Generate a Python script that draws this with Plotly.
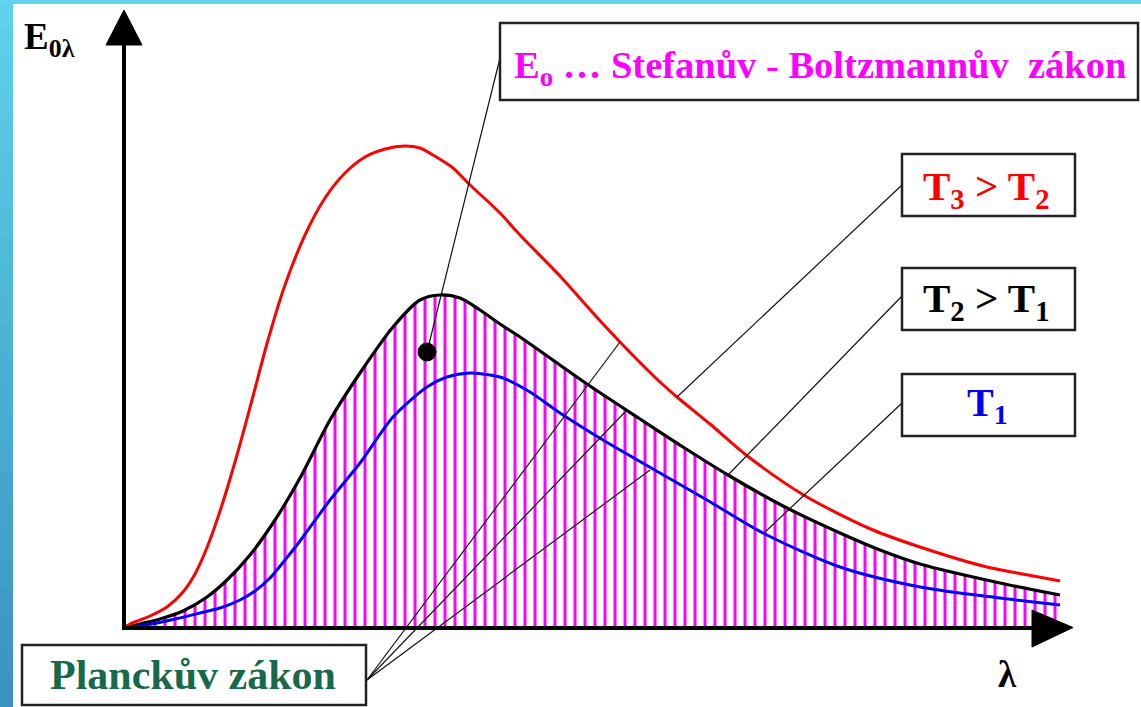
import plotly.graph_objects as go

# ---------------- data (arbitrary units) ----------------
# wavelength axis values (lambda) and spectral emissivity E0λ for each temperature
red_lambda = [0, 0.6, 2.6, 4.3, 5.9, 7.1, 8.4, 9.8, 11.3, 12.8, 14.4, 16.1, 18.1, 20.1, 22.1,
              24.1, 26.1, 28.1, 29.6, 30.9, 32.9, 34.4, 37.6, 39.6, 43.6, 46.9, 49.6, 53.6,
              55.3, 58.6, 62.6, 68.3, 74.9, 79.6, 85.9, 89.3, 93.6]
red_E = [0, 0.4, 1.2, 2.1, 3.6, 5.4, 8.3, 12.3, 17.3, 22.8, 28.8, 34.3, 39.3, 43.0, 45.5,
         47.1, 47.9, 48.2, 48.0, 47.3, 46.0, 44.5, 41.5, 39.3, 35.2, 31.5, 28.6, 24.6,
         23.1, 20.4, 17.0, 13.1, 9.8, 8.1, 6.2, 5.5, 4.7]

black_lambda = [0, 1.6, 3.6, 5.9, 8.3, 10.3, 12.6, 15.1, 17.6, 20.6, 23.6, 26.9, 29.6, 31.6,
                33.6, 35.6, 37.6, 39.6, 42.6, 46.3, 51.6, 55.9, 60.4, 65.9, 71.6, 75.6,
                79.6, 87.6, 93.6]
black_E = [0, 0.4, 0.9, 1.7, 3.1, 4.8, 7.3, 10.8, 15.0, 20.8, 25.5, 30.1, 32.8, 33.3,
           33.0, 31.8, 30.4, 29.1, 27.0, 24.4, 20.9, 18.1, 15.3, 12.2, 9.5, 7.8,
           6.4, 4.5, 3.3]

blue_lambda = [0, 3.3, 7.6, 9.6, 11.6, 13.1, 14.6, 16.1, 17.6, 20.6, 23.6, 26.9, 30.3,
               32.3, 34.6, 36.6, 37.9, 40.6, 43.6, 47.9, 53.6, 58.3, 63.9, 71.6, 79.6,
               87.6, 93.6]
blue_E = [0, 0.5, 1.5, 2.0, 2.8, 3.7, 5.0, 6.8, 8.7, 12.8, 16.5, 21.1, 24.1,
          25.1, 25.5, 25.3, 25.0, 23.6, 21.5, 18.8, 15.5, 12.8, 9.5, 6.1, 4.1,
          3.0, 2.3]

# labels
y_label = "<b>E<sub>0λ</sub></b>"
x_label = "<b>λ</b>"
stefan_label = "<b>E<sub>o</sub> … Stefanův - Boltzmannův  zákon</b>"
planck_label = "<b>Planckův zákon</b>"
t3_label = "<b>T<sub>3</sub> > T<sub>2</sub></b>"
t2_label = "<b>T<sub>2</sub> > T<sub>1</sub></b>"
t1_label = "<b>T<sub>1</sub></b>"

W, H = 1141, 707
X0, X1 = -12.4, 101.7
Y0, Y1 = -7.9, 62.8

MAGENTA = "#ff00ff"
GREEN = "#17694a"
FONT = "Liberation Serif"

fig = go.Figure()

# hatched area under T2 curve (black line)
fig.add_trace(go.Scatter(
    x=black_lambda, y=black_E, mode="lines", fill="tozeroy", fillcolor="white",
    fillpattern=dict(shape="|", fgcolor=MAGENTA, bgcolor="white", size=10,
                     solidity=0.3, fgopacity=1),
    line=dict(color="black", width=3.2, shape="spline", smoothing=0.8),
    hoverinfo="skip", showlegend=False))
fig.add_trace(go.Scatter(
    x=blue_lambda, y=blue_E, mode="lines",
    line=dict(color="#0000ff", width=3, shape="spline", smoothing=0.8),
    hoverinfo="skip", showlegend=False))
fig.add_trace(go.Scatter(
    x=red_lambda, y=red_E, mode="lines",
    line=dict(color="#ff0000", width=3, shape="spline", smoothing=0.8),
    hoverinfo="skip", showlegend=False))

shapes = []
# background stripes (left gradient and top)
N = 24
c_top = (0x5e, 0xd1, 0xeb)
c_bot = (0x3a, 0x93, 0xbf)
for i in range(N):
    t = i / (N - 1)
    c = tuple(round(c_top[k] + (c_bot[k] - c_top[k]) * t) for k in range(3))
    shapes.append(dict(type="rect", xref="paper", yref="paper", layer="below",
                       x0=0, x1=13 / W, y0=max(0, 1 - (i + 1) / N - 2 / H), y1=1 - i / N,
                       line=dict(width=0), fillcolor="rgb(%d,%d,%d)" % c))
shapes.append(dict(type="rect", xref="paper", yref="paper", layer="below",
                   x0=0, x1=1, y0=1 - 4 / H, y1=1, line=dict(width=0), fillcolor="#61d4ee"))

# axes with arrows
shapes.append(dict(type="line", xref="x", yref="y", x0=0, x1=0, y0=0, y1=59.0,
                   line=dict(color="black", width=4)))
shapes.append(dict(type="line", xref="x", yref="y", x0=-0.2, x1=91.5, y0=0, y1=0,
                   line=dict(color="black", width=4)))
shapes.append(dict(type="path", xref="x", yref="y",
                   path="M -1.8 58.3 L 0 61.8 L 1.8 58.3 Z",
                   fillcolor="black", line=dict(color="black", width=1)))
shapes.append(dict(type="path", xref="x", yref="y",
                   path="M 90.8 1.8 L 94.9 0.05 L 90.8 -1.9 Z",
                   fillcolor="black", line=dict(color="black", width=1)))

# leader lines
leaders = [
    ((37.6, 57.0), (30.3, 27.6)),   # Stefan-Boltzmann -> dot
    ((24.3, -5.2), (49.6, 28.6)),   # Planck -> red
    ((24.3, -5.2), (50.1, 21.6)),   # Planck -> black
    ((24.3, -5.2), (52.6, 15.8)),   # Planck -> blue
    ((77.8, 44.3), (55.3, 23.1)),   # T3 -> red
    ((77.8, 33.2), (60.4, 15.3)),   # T2 -> black
    ((77.8, 22.5), (64.1, 9.6)),    # T1 -> blue
]
for (a, b) in leaders:
    shapes.append(dict(type="line", xref="x", yref="y", x0=a[0], y0=a[1], x1=b[0], y1=b[1],
                       line=dict(color="#111", width=1.2)))

# dot
shapes.append(dict(type="circle", xref="x", yref="y", x0=29.4, x1=31.2, y0=26.7, y1=28.5,
                   fillcolor="black", line=dict(color="black", width=1)))

# label boxes
boxes = [
    (37.6, 101.4, 52.8, 60.5),    # Stefan
    (77.8, 95.1, 41.2, 47.4),     # T3
    (77.8, 95.1, 29.8, 36.0),     # T2
    (77.8, 95.1, 19.2, 25.4),     # T1
    (-10.2, 24.2, -7.7, -1.7),    # Planck
]
for (xa, xb, ya, yb) in boxes:
    shapes.append(dict(type="rect", xref="x", yref="y", x0=xa, x1=xb, y0=ya, y1=yb,
                       fillcolor="white", line=dict(color="#222", width=2.5)))

annotations = [
    dict(x=-10.2, y=58.9, text=y_label, xanchor="left", font=dict(size=37, color="black")),
    dict(x=88.3, y=-4.6, text=x_label, font=dict(size=37, color="black")),
    dict(x=69.6, y=56.0, text=stefan_label, font=dict(size=38.5, color=MAGENTA)),
    dict(x=86.2, y=43.9, text=t3_label, font=dict(size=41, color="#ff0000")),
    dict(x=86.2, y=32.7, text=t2_label, font=dict(size=41, color="black")),
    dict(x=86.3, y=22.3, text=t1_label, font=dict(size=40, color="#0000ff")),
    dict(x=6.9, y=-4.7, text=planck_label, font=dict(size=42, color=GREEN)),
]
for a in annotations:
    a.update(xref="x", yref="y", showarrow=False)
    a.setdefault("xanchor", "center")
    a["yanchor"] = "middle"
    a["font"]["family"] = FONT

fig.update_layout(
    width=W, height=H, autosize=False,
    margin=dict(l=0, r=0, t=0, b=0, pad=0),
    paper_bgcolor="white", plot_bgcolor="rgba(0,0,0,0)",
    xaxis=dict(range=[X0, X1], visible=False, fixedrange=True),
    yaxis=dict(range=[Y0, Y1], visible=False, fixedrange=True),
    shapes=shapes, annotations=annotations, showlegend=False,
)

fig.write_html("out.html", config={"displayModeBar": False},
               post_script="document.body.style.margin='0';")
